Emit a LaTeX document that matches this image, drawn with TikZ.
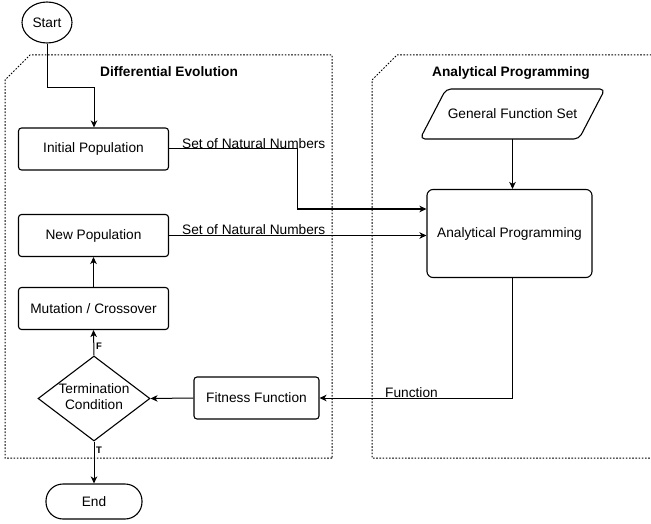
\documentclass[tikz,border=0pt]{standalone}
\usepackage{fontspec}
\setmainfont{Liberation Sans}
\usetikzlibrary{shapes.geometric,arrows.meta}
\begin{document}
\begin{tikzpicture}[x=1pt,y=-1pt,
 every node/.style={font=\fontsize{13.7}{16}\selectfont},
 arr/.style={line width=1pt,-{Stealth[length=7pt,width=6.5pt,inset=2pt]}},
 box/.style={draw,line width=1.1pt,rounded corners=3pt,minimum width=150pt,minimum height=42pt,inner sep=2pt},
 cont/.style={line width=1pt,dash pattern=on 1.6pt off 1.6pt},
 ttl/.style={font=\fontsize{13.7}{16}\selectfont\bfseries},
 tf/.style={font=\fontsize{9.5}{11}\selectfont\bfseries,inner sep=1pt}]
\useasboundingbox (0,0) rectangle (651,524);

% containers
\draw[cont] (332,458) -- (5,458) -- (5,80) -- (30,55) -- (332,55) -- cycle;
\draw[cont] (653,458) -- (372,458) -- (372,80) -- (397,55) -- (653,55);
\node[ttl] (detitle) at (169,72) {Differential Evolution};
\node[ttl] (aptitle) at (511,73) {Analytical Programming};

% nodes
\node[draw,ellipse,line width=1.1pt,minimum width=50pt,minimum height=41pt,inner sep=0pt] (start) at (47,22.5) {Start};
\node[box] (init) at (93.5,149) {Initial Population};
\node[box] (newpop) at (93.5,235.5) {New Population};
\node[box] (mut) at (93.5,308.5) {Mutation / Crossover};
\node[draw,diamond,line width=1.1pt,minimum width=112pt,minimum height=85pt,inner sep=0pt,align=center] (term) at (94,398.5) {};
\node[align=center] (termtxt) at (94,397) {Termination\\Condition};
\node[box,minimum width=125pt] (fit) at (256.5,398) {Fitness Function};
\node[draw,line width=1.1pt,rounded corners=17pt,minimum width=96pt,minimum height=35pt] (end) at (94,501.5) {End};
\node[draw,line width=1.1pt,rounded corners=6pt,minimum width=165pt,minimum height=88pt] (ap) at (509.5,233.5) {Analytical Programming};

% parallelogram
\draw[line width=1.1pt,rounded corners=5pt] (420,139) -- (446,89) -- (605,89) -- (579,139) -- cycle;
\node[minimum width=160pt,minimum height=50pt,inner sep=0pt] (gfs) at (512.5,114) {General Function Set};

% connectors
\draw[arr] (start.south) |- (94,88) -- (init.north -| 94,0);
\draw[arr] (init.east) -| (297,209) -- (ap.west |- 0,209);
\node[anchor=south west,inner sep=1pt] (l1) at (181,150) {Set of Natural Numbers};
\draw[arr] (newpop.east) -- (ap.west |- newpop.east);
\node[anchor=south west,inner sep=1pt] (l2) at (181,236) {Set of Natural Numbers};
\draw[arr] (mut.north) -- (newpop.south);
\draw[arr] (term.north) -- (mut.south);
\node[tf,anchor=west] (lf) at (95,346) {F};
\draw[arr] (term.south) -- (end.north);
\node[tf,anchor=west] (lt) at (95,450) {T};
\draw[arr] (fit.west) -- (term.east);
\draw[arr] (ap.south -| 512,0) |- (fit.east);
\node[anchor=south west,inner sep=1pt] (l3) at (384,399) {Function};
\draw[arr] (gfs.south) -- (ap.north -| gfs.south);
\end{tikzpicture}
\end{document}
